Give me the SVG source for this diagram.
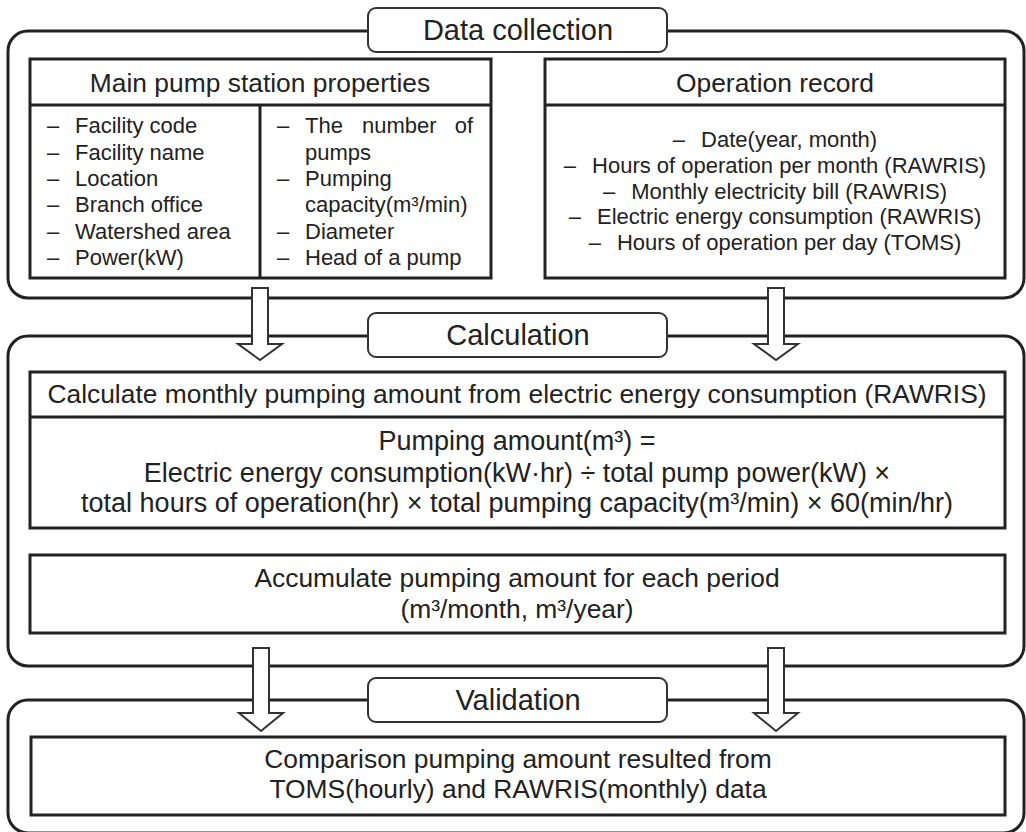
<svg xmlns="http://www.w3.org/2000/svg" width="1026" height="832" viewBox="0 0 1026 832">
<style>
text{font-family:"Liberation Sans",Arial,sans-serif;fill:#222}
.panel{fill:none;stroke:#222;stroke-width:3}
.title{fill:#fff;stroke:#333;stroke-width:2}
.box{fill:#fff;stroke:#222;stroke-width:3}
.line{stroke:#222;stroke-width:3;fill:none}
.arrow{fill:#fff;stroke:#333;stroke-width:2;stroke-linejoin:miter}
.t29{font-size:29px}
.t26{font-size:26.4px}
.t27{font-size:27px}
.t22{font-size:22px}
.mid{text-anchor:middle}
</style>
<rect width="1026" height="832" fill="#fff"/>

<g id="panel-data-collection">
<rect class="panel" x="8" y="31" width="1016" height="267" rx="20"/>
</g>
<g id="panel-calculation">
<rect class="panel" x="8" y="336" width="1016" height="330" rx="20"/>
</g>
<g id="panel-validation">
<rect class="panel" x="8" y="700" width="1016" height="133" rx="20"/>
</g>

<g id="connectors">
<polygon class="arrow" points="252,288 268,288 268,344 282,344 260,360 238,344 252,344"/>
<polygon class="arrow" points="768,288 784,288 784,344 798,344 776,360 754,344 768,344"/>
<polygon class="arrow" points="253,648 269,648 269,713 283,713 261,731 239,713 253,713"/>
<polygon class="arrow" points="768,648 784,648 784,713 798,713 776,731 754,713 768,713"/>
</g>

<g id="title-data-collection">
<rect class="title" x="368" y="8" width="299" height="44" rx="8"/>
<text class="t29 mid" x="518" y="40">Data collection</text>
</g>

<g id="main-pump-station-properties">
<rect class="box" x="30" y="59" width="461" height="219"/>
<line class="line" x1="30" y1="105" x2="491" y2="105"/>
<line class="line" x1="260" y1="105" x2="260" y2="278"/>
<text class="t26 mid" x="260" y="92">Main pump station properties</text>
<g class="t22">
<text x="47" y="133">–</text><text x="75" y="133">Facility code</text>
<text x="47" y="159.5">–</text><text x="75" y="159.5">Facility name</text>
<text x="47" y="186">–</text><text x="75" y="186">Location</text>
<text x="47" y="212">–</text><text x="75" y="212">Branch office</text>
<text x="47" y="238.5">–</text><text x="75" y="238.5">Watershed area</text>
<text x="47" y="265">–</text><text x="75" y="265">Power(kW)</text>
<text x="277" y="133">–</text><text x="305" y="133">The</text><text x="362" y="133">number</text><text x="473" y="133" text-anchor="end">of</text>
<text x="305" y="159.5">pumps</text>
<text x="277" y="186">–</text><text x="305" y="186">Pumping</text>
<text x="305" y="212">capacity(m³/min)</text>
<text x="277" y="238.5">–</text><text x="305" y="238.5">Diameter</text>
<text x="277" y="265">–</text><text x="305" y="265">Head of a pump</text>
</g>
</g>

<g id="operation-record">
<rect class="box" x="545" y="59" width="460" height="219"/>
<line class="line" x1="545" y1="105" x2="1005" y2="105"/>
<text class="t26 mid" x="775" y="92">Operation record</text>
<g class="t22 mid">
<text x="775" y="147">–<tspan dx="16">Date(year, month)</tspan></text>
<text x="775" y="172.5">–<tspan dx="16">Hours of operation per month (RAWRIS)</tspan></text>
<text x="775" y="198.5">–<tspan dx="16">Monthly electricity bill (RAWRIS)</tspan></text>
<text x="775" y="224">–<tspan dx="16">Electric energy consumption (RAWRIS)</tspan></text>
<text x="775" y="250">–<tspan dx="16">Hours of operation per day (TOMS)</tspan></text>
</g>
</g>

<g id="title-calculation">
<rect class="title" x="368" y="313" width="299" height="44" rx="8"/>
<text class="t29 mid" x="518" y="345">Calculation</text>
</g>

<g id="calculate-monthly">
<rect class="box" x="30" y="372" width="975" height="156"/>
<line class="line" x1="30" y1="417" x2="1005" y2="417"/>
<text class="t26 mid" x="517" y="403">Calculate monthly pumping amount from electric energy consumption (RAWRIS)</text>
<text class="t27 mid" x="517" y="450">Pumping amount(m³) =</text>
<text class="t27 mid" x="517" y="482">Electric energy consumption(kW·hr) ÷ total pump power(kW) ×</text>
<text class="t27 mid" x="517" y="512">total hours of operation(hr) × total pumping capacity(m³/min) × 60(min/hr)</text>
</g>

<g id="accumulate">
<rect class="box" x="30" y="555" width="975" height="78"/>
<text class="t26 mid" x="517" y="587">Accumulate pumping amount for each period</text>
<text class="t26 mid" x="517" y="618">(m³/month, m³/year)</text>
</g>

<g id="title-validation">
<rect class="title" x="368" y="678" width="299" height="44" rx="8"/>
<text class="t29 mid" x="518" y="710">Validation</text>
</g>

<g id="comparison">
<rect class="box" x="31" y="737" width="974" height="78"/>
<text class="t26 mid" x="518" y="768">Comparison pumping amount resulted from</text>
<text class="t26 mid" x="518" y="798">TOMS(hourly) and RAWRIS(monthly) data</text>
</g>
</svg>
